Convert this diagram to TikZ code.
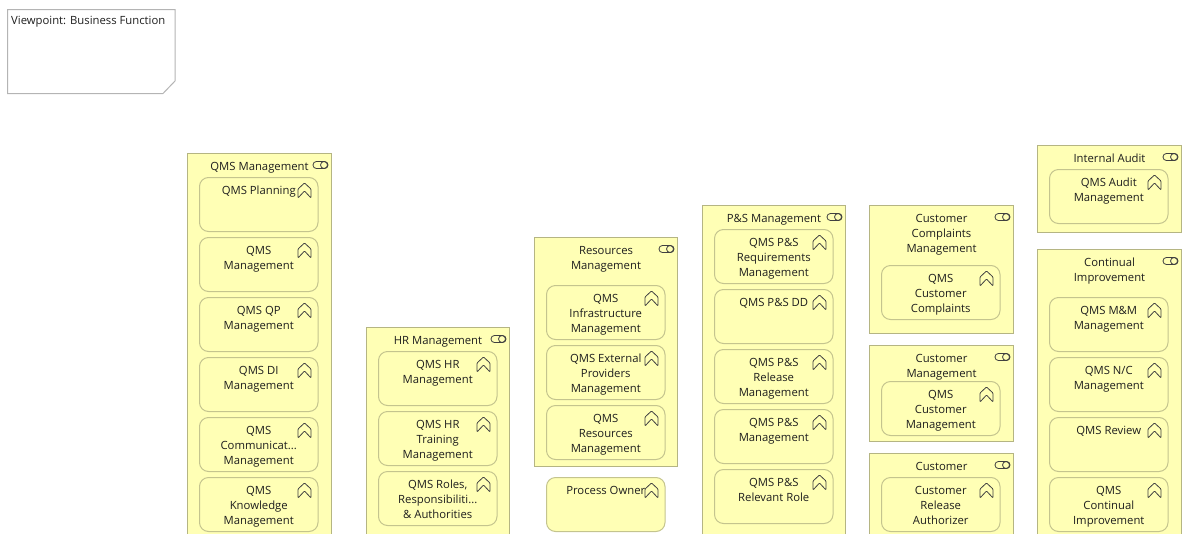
\documentclass[tikz,border=0pt]{standalone}
\usepackage{fontspec}
\setmainfont{Open Sans}
\definecolor{bizfill}{HTML}{FFFFB5}
\definecolor{bizline}{HTML}{B5B583}
\definecolor{kidline}{HTML}{C4C48E}
\definecolor{ink}{HTML}{1E1E1E}
\definecolor{noteline}{HTML}{B4B4B4}
\tikzset{
  container/.style={draw=bizline,fill=bizfill,line width=1pt,anchor=north west,inner sep=0pt},
  kid/.style={draw=kidline,fill=bizfill,line width=1pt,rounded corners=9pt,anchor=north west,inner sep=0pt,minimum width=118.5pt,minimum height=54pt},
  caption/.style={anchor=north,align=center,inner sep=0pt,text=ink,font=\fontsize{11.3}{15}\selectfont},
  iconline/.style={draw=ink!85,line width=.8pt,line join=round}
}
\newcommand{\fnicon}[2]{% right end x, mid y
  \draw[iconline,rounded corners=3.4pt] (#1-15,#2-3.5) rectangle (#1,#2+3.5);
  \draw[iconline] (#1-4,#2) circle[radius=3.5];
}
\newcommand{\chev}[2]{% left x, top y
  \draw[iconline,rounded corners=.8pt] (#1,#2+6) -- (#1+6.5,#2) -- (#1+13,#2+6) -- (#1+13,#2+15) -- (#1+6.5,#2+8) -- (#1,#2+15) -- cycle;
}
\newcommand{\groupbox}[6]{% name,x,y,w,h,text
  \node[container,minimum width=#4pt,minimum height=#5pt] (#1) at (#2,#3) {};
  \node[caption] (#1t) at ([yshift=-9pt]#1.north) {#6};
  \fnicon{#2+#4-3}{#3+12}
}
\newcommand{\kidbox}[4]{% name,x,y,text
  \node[kid] (#1) at (#2,#3) {};
  \node[caption] (#1t) at ([yshift=-9pt]#1.north) {#4};
  \chev{#2+99}{#3+6}
}
\begin{document}
\begin{tikzpicture}[x=1pt,y=-1pt]
\useasboundingbox (0,0) rectangle (1183,533);
\clip (0,0) rectangle (1183,533);

\draw[noteline,line width=1pt,fill=white] (7.5,9.5) -- (175,9.5) -- (175,81) -- (163,93.5) -- (7.5,93.5) -- cycle;
\node[anchor=north west,inner sep=0pt,text=ink,font=\fontsize{11.3}{15}\selectfont] (note) at (11,16) {Viewpoint: Business Function};

\groupbox{gqms}{187}{153}{144}{420}{QMS Management}
\kidbox{a1}{199}{177}{QMS Planning}
\kidbox{a2}{199}{237}{QMS\\Management}
\kidbox{a3}{199}{297}{QMS QP\\Management}
\kidbox{a4}{199}{357}{QMS DI\\Management}
\kidbox{a5}{199}{417}{QMS\\Communicat...\\Management}
\kidbox{a6}{199}{477}{QMS\\Knowledge\\Management}

\groupbox{ghr}{366}{327}{143}{250}{HR Management}
\kidbox{b1}{378}{351}{QMS HR\\Management}
\kidbox{b2}{378}{411}{QMS HR\\Training\\Management}
\kidbox{b3}{378}{471}{QMS Roles,\\Responsibiliti...\\\& Authorities}

\groupbox{gres}{534}{237}{143}{229}{Resources\\Management}
\kidbox{c1}{546}{285}{QMS\\Infrastructure\\Management}
\kidbox{c2}{546}{345}{QMS External\\Providers\\Management}
\kidbox{c3}{546}{405}{QMS\\Resources\\Management}
\kidbox{c4}{546}{477}{Process Owner}

\groupbox{gps}{702}{205}{143}{380}{P\&S Management}
\kidbox{d1}{714}{229}{QMS P\&S\\Requirements\\Management}
\kidbox{d2}{714}{289}{QMS P\&S DD}
\kidbox{d3}{714}{349}{QMS P\&S\\Release\\Management}
\kidbox{d4}{714}{409}{QMS P\&S\\Management}
\kidbox{d5}{714}{469}{QMS P\&S\\Relevant Role}

\groupbox{gcc}{869}{205}{144}{128}{Customer\\Complaints\\Management}
\kidbox{e1}{881}{265}{QMS\\Customer\\Complaints}

\groupbox{gcm}{869}{345}{144}{96}{Customer\\Management}
\kidbox{e2}{881}{381}{QMS\\Customer\\Management}

\groupbox{gcu}{869}{453}{144}{120}{Customer}
\kidbox{e3}{881}{477}{Customer\\Release\\Authorizer}

\groupbox{gia}{1037}{145}{144}{87}{Internal Audit}
\kidbox{f1}{1049}{169}{QMS Audit\\Management}

\groupbox{gci}{1037}{249}{144}{330}{Continual\\Improvement}
\kidbox{f2}{1049}{297}{QMS M\&M\\Management}
\kidbox{f3}{1049}{357}{QMS N/C\\Management}
\kidbox{f4}{1049}{417}{QMS Review}
\kidbox{f5}{1049}{477}{QMS\\Continual\\Improvement}
\end{tikzpicture}
\end{document}
